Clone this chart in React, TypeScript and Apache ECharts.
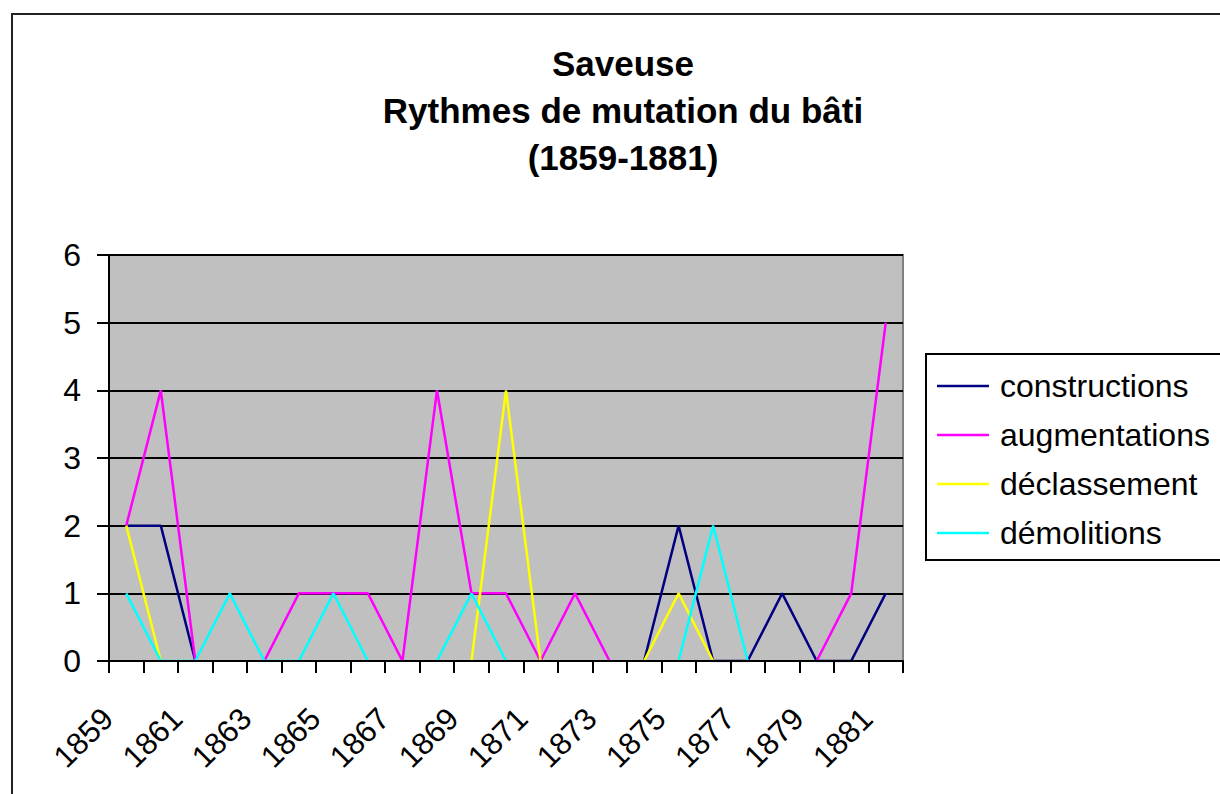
import React, { useEffect, useRef } from "react";
import * as echarts from "echarts";

const years = [
  "1859", "1860", "1861", "1862", "1863", "1864", "1865", "1866", "1867", "1868", "1869", "1870",
  "1871", "1872", "1873", "1874", "1875", "1876", "1877", "1878", "1879", "1880", "1881",
];

const constructions = [2, 2, 0, null, null, null, null, null, null, null, null, null, null, null, null, 0, 2, 0, 0, 1, 0, 0, 1];
const augmentations = [2, 4, 0, null, 0, 1, 1, 1, 0, 4, 1, 1, 0, 1, 0, null, null, null, null, null, 0, 1, 5];
const declassement = [2, 0, null, null, null, null, null, null, null, null, 0, 4, 0, null, null, 0, 1, 0, null, null, null, null, null];
const demolitions = [1, 0, 0, 1, 0, 0, 1, 0, null, 0, 1, 0, null, null, null, null, 0, 2, 0, null, null, null, null];

const seriesNames = ["constructions", "augmentations", "déclassement", "démolitions"];
const seriesColors = ["#000080", "#FF00FF", "#FFFF00", "#00FFFF"];
const seriesData = [constructions, augmentations, declassement, demolitions];

const titleText = "Saveuse\nRythmes de mutation du bâti\n(1859-1881)";
const FONT = "'Liberation Sans', Arial, sans-serif";

export default function App() {
  const ref = useRef<HTMLDivElement>(null);
  useEffect(() => {
    if (!ref.current) return;
    const chart = echarts.init(ref.current, undefined, { renderer: "svg" });
    chart.setOption({
      animation: false,
      backgroundColor: "#ffffff",
      textStyle: { fontFamily: FONT },
      graphic: [
        {
          type: "rect",
          shape: { x: 12, y: 14, width: 1250, height: 820 },
          style: { fill: "none", stroke: "#222", lineWidth: 2 },
          silent: true,
          z: -1,
        },
        {
          type: "text",
          x: 623,
          y: 40,
          silent: true,
          style: {
            text: titleText,
            textAlign: "center",
            textVerticalAlign: "top",
            fontFamily: FONT,
            fontSize: 35,
            fontWeight: "bold",
            lineHeight: 47,
            fill: "#000",
          },
        },
      ],
      legend: {
        orient: "vertical",
        left: 926,
        top: 354,
        padding: [14, 20, 9, 11],
        icon: "rect",
        itemWidth: 52,
        itemHeight: 2.5,
        itemGap: 13,
        borderColor: "#000",
        borderWidth: 2,
        backgroundColor: "#fff",
        textStyle: {
          fontFamily: FONT,
          fontSize: 32,
          lineHeight: 36,
          color: "#000",
          padding: [0, 0, 0, 6],
        },
        data: seriesNames,
      },
      grid: {
        left: 109,
        right: 317,
        top: 255,
        bottom: 133,
        show: true,
        backgroundColor: "#C0C0C0",
        borderColor: "#808080",
        borderWidth: 2,
        containLabel: false,
        outerBoundsMode: "none",
      },
      xAxis: {
        type: "category",
        data: years,
        boundaryGap: true,
        z: 5,
        axisLine: { show: true, lineStyle: { color: "#000", width: 2 } },
        axisTick: { show: true, interval: 0, length: 12, lineStyle: { color: "#000", width: 2 } },
        axisLabel: {
          interval: 1,
          rotate: 45,
          margin: 34,
          padding: [0, 26, 0, 0],
          fontSize: 31,
          color: "#000",
          fontFamily: FONT,
        },
        splitLine: { show: false },
      },
      yAxis: {
        type: "value",
        min: 0,
        max: 6,
        interval: 1,
        axisLine: { show: true, lineStyle: { color: "#000", width: 2 } },
        axisTick: { show: true, length: 12, lineStyle: { color: "#000", width: 2 } },
        axisLabel: { fontSize: 32, margin: 28, color: "#000", fontFamily: FONT },
        splitLine: { show: true, lineStyle: { color: "#000", width: 2 } },
      },
      series: seriesNames.map((name, i) => ({
        name,
        type: "line",
        data: seriesData[i],
        symbol: "none",
        connectNulls: false,
        color: seriesColors[i],
        itemStyle: { color: seriesColors[i] },
        lineStyle: { color: seriesColors[i], width: 2.5 },
        z: 2,
      })),
    });
    return () => chart.dispose();
  }, []);
  return (
    <div
      ref={ref}
      style={{ position: "fixed", left: 0, top: 0, width: 1220, height: 794 }}
    />
  );
}
